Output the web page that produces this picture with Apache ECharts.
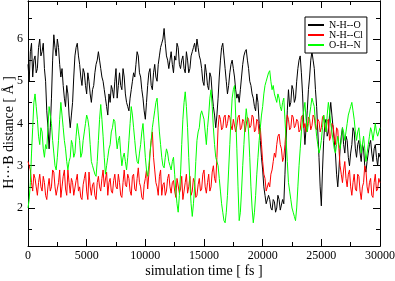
<!DOCTYPE html>
<html>
<head>
<meta charset="utf-8">
<script src="https://cdn.jsdelivr.net/npm/echarts@6/dist/echarts.min.js"></script>
<style>
html,body{margin:0;padding:0;background:#fff;}
#chart{width:395px;height:281px;}
</style>
</head>
<body>
<div id="chart"></div>
<script>
const timeStep = 100;
const seriesNames = ['N-H--O', 'N-H--Cl', 'O-H--N'];
const seriesColors = ['#000000', '#ff0000', '#00ff00'];

// N-H--O distance (Å), every 100 fs from 0 to 30000
const nhoValues = [
 5.4,5.0,5.7,5.9,5.1,5.5,5.6,5.2,5.3,5.8,
 6.0,5.6,5.7,5.9,5.3,5.0,4.3,3.9,3.4,3.9,
 4.6,5.5,6.1,5.8,5.6,6.0,5.8,5.4,5.1,5.3,
 4.9,4.6,4.4,4.9,4.7,4.2,3.9,4.2,4.5,5.1,
 5.6,5.8,5.9,5.6,5.4,5.1,4.9,5.3,5.2,4.9,
 4.7,5.2,5.0,4.7,4.5,4.8,4.9,5.2,5.4,5.5,
 5.7,5.5,5.3,5.1,5.0,4.8,4.6,4.4,4.2,4.7,
 4.5,4.9,4.8,4.6,5.0,5.3,4.6,4.9,5.2,4.9,
 4.8,5.3,5.1,4.7,4.5,4.4,4.3,4.6,4.8,5.0,
 5.2,5.1,5.4,5.7,5.6,5.2,5.1,4.8,4.6,4.3,
 4.1,4.5,4.9,5.2,5.3,4.9,4.8,5.2,5.4,5.1,
 5.0,5.4,5.6,5.8,5.9,6.0,6.25,5.9,5.6,5.5,
 5.3,5.5,5.7,5.4,5.2,5.6,5.5,5.9,5.8,5.4,
 5.3,5.5,5.6,5.3,5.2,5.7,5.5,5.2,5.3,5.6,
 5.7,5.8,5.9,5.7,6.0,5.8,5.6,5.5,5.3,5.0,
 4.9,5.4,5.2,4.9,4.8,5.2,5.1,4.7,4.4,4.2,
 3.9,4.2,4.6,5.1,5.5,5.8,5.9,5.6,5.3,5.0,
 4.7,4.9,5.2,5.4,5.5,5.3,5.1,4.8,4.6,4.7,
 4.5,4.8,5.1,5.4,5.6,5.7,5.75,5.5,5.3,5.0,
 4.9,4.7,4.6,4.4,4.3,4.7,4.5,4.0,3.6,3.2,
 2.9,2.5,2.3,2.1,2.1,2.3,2.2,2.0,1.95,2.2,
 2.15,1.9,2.0,2.3,2.2,1.95,1.95,2.2,2.1,2.8,
 3.6,4.3,4.8,4.4,4.5,4.9,4.8,4.5,4.6,5.0,
 5.3,5.5,5.6,5.2,4.7,4.0,3.5,3.9,4.3,4.8,
 5.1,5.5,5.7,5.5,5.3,4.8,4.4,3.8,3.2,2.5,
 2.05,2.9,3.6,4.0,4.1,3.7,3.8,4.2,4.5,4.2,
 3.9,3.6,3.3,2.8,2.5,2.9,3.4,3.7,3.9,3.5,
 3.3,3.7,3.6,3.2,3.0,3.3,3.5,3.9,3.8,3.4,
 3.2,3.5,3.6,3.3,3.1,3.5,3.4,3.0,2.85,3.1,
 3.3,3.5,3.6,3.3,3.1,3.4,3.5,3.2,3.0,3.3,
 3.2
];
// N-H--Cl distance (Å)
const nhclValues = [
 3.1,3.0,2.9,2.6,2.4,2.8,2.7,2.5,2.3,2.6,
 2.8,2.5,2.4,2.75,2.6,2.3,2.2,2.5,2.7,2.4,
 2.5,2.9,2.85,2.5,2.3,2.45,2.6,2.9,2.25,2.5,
 2.75,2.9,2.45,2.3,2.9,2.6,2.35,2.7,2.6,2.3,
 2.3,2.65,2.8,2.4,2.5,2.25,2.2,2.55,2.7,2.85,
 2.4,2.2,2.85,2.5,2.3,2.55,2.6,2.3,2.2,2.6,
 2.75,2.5,2.4,2.7,2.9,2.5,2.5,2.85,2.3,2.6,
 2.7,2.4,2.35,2.65,2.8,2.5,2.45,2.8,2.6,2.3,
 2.25,2.6,2.9,2.55,2.5,2.8,2.7,2.4,2.3,2.75,
 2.8,2.45,2.4,2.7,2.95,2.6,2.5,2.25,2.2,2.55,
 2.7,2.9,2.45,2.8,3.3,3.6,3.8,3.2,2.9,2.6,
 2.5,2.3,2.75,2.9,2.3,2.55,2.6,2.3,2.4,2.7,
 2.8,2.5,2.35,2.6,2.65,2.4,2.25,2.7,2.7,2.35,
 2.45,2.75,2.2,2.4,2.6,2.8,2.35,2.5,2.75,2.3,
 2.4,2.7,2.6,2.25,2.3,2.55,2.7,2.4,2.45,2.8,
 2.9,2.5,2.35,2.6,2.8,2.4,2.5,2.85,3.0,2.7,
 2.6,3.2,3.9,4.2,4.1,3.85,3.9,4.15,4.2,3.9,
 4.0,4.2,4.15,3.95,3.85,4.1,4.1,3.8,3.95,4.15,
 4.2,3.85,3.9,4.1,4.05,3.8,3.8,4.15,4.1,3.9,
 3.95,4.2,4.15,3.8,3.85,4.1,4.05,3.75,3.9,3.5,
 3.1,2.8,2.7,2.4,2.4,2.6,2.5,2.8,2.9,3.1,
 3.3,3.2,3.5,3.7,3.75,3.5,3.4,3.1,3.2,3.5,
 3.9,4.2,4.1,3.85,3.9,4.2,4.15,3.9,3.95,4.1,
 4.05,3.8,3.85,4.15,4.2,3.9,4.0,3.8,3.9,4.15,
 4.1,3.85,3.95,4.2,4.15,3.9,3.85,4.1,4.05,3.8,
 3.9,4.15,4.2,3.9,3.8,4.05,4.1,3.6,3.7,4.0,
 3.95,3.7,3.5,3.9,3.85,3.4,3.0,2.8,2.6,2.9,
 3.1,2.7,2.5,2.8,2.9,2.5,2.3,2.6,2.8,2.45,
 2.4,2.8,2.75,2.4,2.2,2.5,2.6,3.0,2.9,2.5,
 2.35,2.6,2.7,2.3,2.25,2.6,2.8,2.4,2.45,2.7,
 2.6
];
// O-H--N distance (Å)
const ohnValues = [
 2.0,2.2,2.6,3.3,3.9,4.5,4.7,4.4,4.1,3.7,
 3.5,3.9,3.8,3.4,3.2,3.5,3.4,3.9,4.4,4.2,
 4.0,3.6,3.3,3.0,2.9,3.2,3.6,4.1,4.5,4.2,
 3.9,3.6,3.4,3.1,2.9,3.1,3.2,3.6,3.5,3.2,
 3.3,3.7,4.0,3.8,3.6,3.2,3.3,3.6,3.8,4.0,
 4.2,4.1,3.9,3.5,3.1,3.0,2.9,2.8,2.75,3.1,
 3.6,4.1,4.45,4.1,3.7,3.2,2.8,3.0,3.2,3.4,
 3.5,3.8,3.9,4.1,4.05,3.7,3.4,3.6,3.7,3.3,
 3.0,3.2,3.3,3.1,2.9,3.2,3.6,4.0,4.4,4.2,
 3.9,3.6,3.3,3.1,3.05,3.3,3.5,3.8,4.0,3.6,
 3.2,2.9,2.75,3.0,3.3,3.6,3.9,4.1,4.3,4.5,
 4.6,4.2,3.8,3.5,3.2,3.0,2.95,3.2,3.4,3.3,
 3.1,3.0,2.9,3.1,3.2,2.8,2.4,2.1,1.9,2.3,
 2.8,3.5,4.1,4.5,4.75,4.4,3.9,3.2,2.6,2.1,
 1.8,2.1,2.5,3.1,3.6,3.8,3.9,4.2,4.3,4.2,
 4.1,3.8,3.5,3.9,4.2,4.6,4.8,4.4,3.9,3.5,
 3.2,3.1,3.0,2.7,2.4,2.1,1.9,1.7,1.65,1.9,
 2.3,2.9,3.5,4.1,4.6,4.8,4.9,4.2,3.4,2.5,
 1.7,1.9,2.4,3.0,3.5,4.0,4.35,4.1,3.8,3.2,
 2.5,2.0,1.65,1.9,2.3,2.8,3.2,3.6,3.9,4.2,
 4.4,4.7,4.9,5.0,5.1,5.2,5.25,5.0,4.8,4.9,
 4.7,4.6,4.5,4.7,4.6,4.4,4.3,4.5,4.6,4.1,
 3.6,3.1,2.6,2.4,2.2,2.0,1.9,1.8,1.7,2.0,
 2.5,3.0,3.4,3.8,4.1,4.3,4.5,4.1,3.8,4.0,
 4.2,4.4,4.6,4.5,4.4,4.0,3.7,3.5,3.3,3.4,
 3.6,3.9,4.2,4.0,3.8,4.2,4.5,4.3,4.0,3.8,
 3.6,3.4,3.3,3.5,3.7,3.5,3.4,3.6,3.9,3.8,
 3.6,3.8,4.0,4.2,4.3,4.4,4.5,4.3,4.1,3.8,
 3.6,3.8,3.9,3.6,3.3,3.5,3.7,3.4,3.1,3.3,
 3.5,3.7,3.9,3.8,3.6,3.8,4.0,3.8,3.7,3.8,
 3.9
];

const xMin = 0, xMax = 30000, xMajorStep = 5000;
const yMin = 1.1, yMax = 6.9;
const yMajorTicks = [2, 3, 4, 5, 6];
const yMinorTicks = [1.5, 2.5, 3.5, 4.5, 5.5, 6.5];

const xTitle = 'simulation time [ fs ]';
const yTitle = 'H\u00B7\u00B7\u00B7B distance [ \u00C5 ]';

const allValues = [nhoValues, nhclValues, ohnValues];

const serif = '"Liberation Serif", "DejaVu Serif", serif';

function toPairs(vals) {
  return vals.map((v, i) => [i * timeStep, v]);
}

function xAx(pos, withLabels) {
  return {
    type: 'value', position: pos, min: xMin, max: xMax, interval: xMajorStep,
    axisLine: {show: true, onZero: false, lineStyle: {color: '#000', width: 1}},
    axisTick: {show: true, inside: true, length: 7, lineStyle: {color: '#000'}},
    minorTick: {show: true, splitNumber: 2, length: 4, lineStyle: {color: '#000'}},
    axisLabel: {show: withLabels, color: '#000', fontFamily: serif, fontSize: 12, margin: 4,
      formatter: v => String(v)},
    splitLine: {show: false}, minorSplitLine: {show: false},
    name: withLabels ? xTitle : '', nameLocation: 'middle', nameGap: 18, nameMoveOverlap: false,
    nameTextStyle: {color: '#000', fontFamily: serif, fontSize: 14}
  };
}
function yAx(pos, ticks, len, withLabels) {
  return {
    type: 'value', position: pos, min: yMin, max: yMax, offset: 0,
    axisLine: {show: true, onZero: false, lineStyle: {color: '#000', width: 1}},
    axisTick: {show: true, inside: true, length: len, customValues: ticks, lineStyle: {color: '#000'}},
    axisLabel: {show: withLabels, customValues: ticks, color: '#000', fontFamily: serif, fontSize: 12, margin: 5},
    splitLine: {show: false},
    name: withLabels ? yTitle : '', nameLocation: 'middle', nameGap: 12, nameMoveOverlap: false,
    nameTextStyle: {color: '#000', fontFamily: serif, fontSize: 14, padding: [0, 18, 0, 0]}
  };
}

const chart = echarts.init(document.getElementById('chart'), null, {renderer: 'canvas'});
chart.setOption({
  animation: false,
  backgroundColor: '#fff',
  grid: {left: 28, right: 15, top: 1, bottom: 35, containLabel: false, outerBoundsMode: 'none'},
  legend: {
    data: seriesNames,
    orient: 'vertical', left: 305, top: 17,
    backgroundColor: '#fff', borderColor: '#000', borderWidth: 1,
    padding: [3, 4, 3, 3], itemGap: 0,
    icon: 'rect', itemWidth: 16, itemHeight: 2,
    textStyle: {color: '#000', fontFamily: serif, fontSize: 10, lineHeight: 10}
  },
  xAxis: [xAx('bottom', true), xAx('top', false)],
  yAxis: [
    yAx('left', yMajorTicks, 7, true),
    yAx('left', yMinorTicks, 4, false),
    yAx('right', yMajorTicks, 7, false),
    yAx('right', yMinorTicks, 4, false)
  ],
  series: seriesNames.map((n, k) => ({
    name: n, type: 'line', xAxisIndex: 0, yAxisIndex: 0,
    data: toPairs(allValues[k]),
    showSymbol: false, symbol: 'none',
    color: seriesColors[k],
    lineStyle: {color: seriesColors[k], width: 1},
    emphasis: {disabled: true}
  }))
});
</script>
</body>
</html>
